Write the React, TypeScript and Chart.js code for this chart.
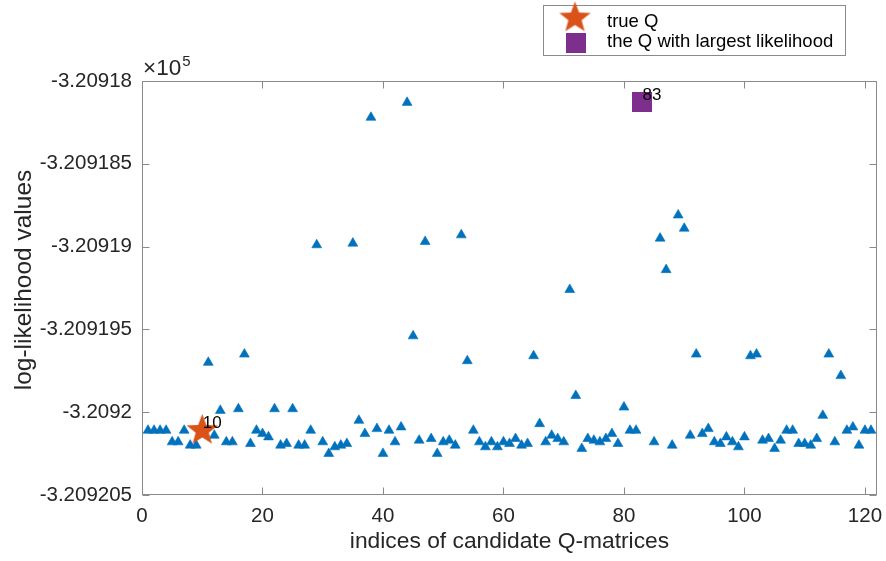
import React, { useEffect, useRef } from 'react';
import { Chart, registerables } from 'chart.js';

Chart.register(...registerables);

// ---------- data ----------
const candidateIndices = [
  1, 2, 3, 4, 5, 6, 7, 8, 9, 10, 11, 12, 13, 14, 15, 16, 17, 18, 19, 20,
  21, 22, 23, 24, 25, 26, 27, 28, 29, 30, 31, 32, 33, 34, 35, 36, 37, 38, 39, 40,
  41, 42, 43, 44, 45, 46, 47, 48, 49, 50, 51, 52, 53, 54, 55, 56, 57, 58, 59, 60,
  61, 62, 63, 64, 65, 66, 67, 68, 69, 70, 71, 72, 73, 74, 75, 76, 77, 78, 79, 80,
  81, 82, 83, 84, 85, 86, 87, 88, 89, 90, 91, 92, 93, 94, 95, 96, 97, 98, 99, 100,
  101, 102, 103, 104, 105, 106, 107, 108, 109, 110, 111, 112, 113, 114, 115, 116, 117, 118, 119, 120,
  121,
];

// index 84 is not visible in the picture (hidden behind the best-Q marker)
const logLikelihoods: (number | null)[] = [
  -320920.11, -320920.11, -320920.11, -320920.11, -320920.18, -320920.18, -320920.11, -320920.2, -320920.2, -320920.11,
  -320919.7, -320920.14, -320919.99, -320920.18, -320920.18, -320919.98, -320919.65, -320920.19, -320920.11, -320920.13,
  -320920.15, -320919.98, -320920.2, -320920.19, -320919.98, -320920.2, -320920.2, -320920.11, -320918.99, -320920.18,
  -320920.25, -320920.21, -320920.2, -320920.19, -320918.98, -320920.05, -320920.13, -320918.22, -320920.1, -320920.25,
  -320920.11, -320920.18, -320920.09, -320918.13, -320919.54, -320920.17, -320918.97, -320920.16, -320920.25, -320920.18,
  -320920.17, -320920.2, -320918.93, -320919.69, -320920.11, -320920.18, -320920.21, -320920.18, -320920.21, -320920.18,
  -320920.19, -320920.16, -320920.2, -320920.19, -320919.66, -320920.07, -320920.18, -320920.14, -320920.16, -320920.18,
  -320919.26, -320919.9, -320920.22, -320920.16, -320920.17, -320920.18, -320920.16, -320920.13, -320920.19, -320919.97,
  -320920.11, -320920.11, -320918.125, null, -320920.18, -320918.95, -320919.14, -320920.2, -320918.81, -320918.89,
  -320920.14, -320919.65, -320920.13, -320920.1, -320920.18, -320920.19, -320920.15, -320920.18, -320920.21, -320920.15,
  -320919.66, -320919.65, -320920.17, -320920.16, -320920.22, -320920.17, -320920.11, -320920.11, -320920.19, -320920.19,
  -320920.2, -320920.16, -320920.02, -320919.65, -320920.18, -320919.78, -320920.11, -320920.09, -320920.2, -320920.11,
  -320920.11,
];

const trueQIndex = 10;
const bestQIndex = 83;

const xLimits = [0, 122];
const yLimits = [-320920.5, -320918];
const xTickValues = [0, 20, 40, 60, 80, 100, 120];
const yTickValues = [-320920.5, -320920, -320919.5, -320919, -320918.5, -320918];

const legendLabels = ['true Q', 'the Q with largest likelihood'];
const xTitle = 'indices of candidate Q-matrices';
const yTitle = 'log-likelihood values';
const exponentBase = '\u00d710';
const exponentPower = '5';

// ---------- styles ----------
const FONT = "'Liberation Sans', Arial, Helvetica, sans-serif";
const BLUE = '#0072BD';
const ORANGE = '#D95319';
const PURPLE = '#7E2F8E';
const AXIS = '#8a8a8a';
const TEXT = '#262626';

function makeStar(color: string, outerR: number, ratio: number) {
  const pad = 2;
  const size = Math.ceil(outerR * 2 + pad * 2);
  const c = document.createElement('canvas');
  c.width = size;
  c.height = size;
  const ctx = c.getContext('2d')!;
  const cx = size / 2;
  const cy = size / 2;
  const innerR = outerR * ratio;
  ctx.beginPath();
  for (let k = 0; k < 10; k++) {
    const r = k % 2 === 0 ? outerR : innerR;
    const a = -Math.PI / 2 + (k * Math.PI) / 5;
    const px = cx + r * Math.cos(a);
    const py = cy + r * Math.sin(a);
    if (k === 0) ctx.moveTo(px, py);
    else ctx.lineTo(px, py);
  }
  ctx.closePath();
  ctx.fillStyle = color;
  ctx.fill();
  return c;
}

function makeSquare(color: string, side: number) {
  const c = document.createElement('canvas');
  c.width = side;
  c.height = side;
  const ctx = c.getContext('2d')!;
  ctx.fillStyle = color;
  ctx.fillRect(0, 0, side, side);
  return c;
}

function fmtY(v: number) {
  return String(parseFloat((v / 1e5).toFixed(7)));
}

export default function App() {
  const ref = useRef<HTMLCanvasElement>(null);

  useEffect(() => {
    const canvas = ref.current!;
    const starImg = makeStar(ORANGE, 16.5, 0.42);
    const squareImg = makeSquare(PURPLE, 20);
    const points = candidateIndices.map((x, k) => ({ x, y: logLikelihoods[k] }));
    const trueVal = logLikelihoods[candidateIndices.indexOf(trueQIndex)] as number;
    const bestVal = logLikelihoods[candidateIndices.indexOf(bestQIndex)] as number;

    const overlay = {
      id: 'matlabOverlay',
      beforeDatasetsDraw(chart: any) {
        const { ctx, chartArea: a, scales } = chart;
        ctx.save();
        ctx.strokeStyle = AXIS;
        ctx.lineWidth = 1;
        const L = Math.round(a.left) + 0.5;
        const R = Math.round(a.right) - 0.5;
        const T = Math.round(a.top) + 0.5;
        const B = Math.round(a.bottom) - 0.5;
        ctx.strokeRect(L, T, R - L, B - T);
        const tl = 7;
        ctx.beginPath();
        xTickValues.forEach((v) => {
          const px = Math.round(scales.x.getPixelForValue(v)) + 0.5;
          ctx.moveTo(px, B);
          ctx.lineTo(px, B - tl);
          ctx.moveTo(px, T);
          ctx.lineTo(px, T + tl);
        });
        yTickValues.forEach((v) => {
          const py = Math.round(scales.y.getPixelForValue(v)) + 0.5;
          ctx.moveTo(L, py);
          ctx.lineTo(L + tl, py);
          ctx.moveTo(R, py);
          ctx.lineTo(R - tl, py);
        });
        ctx.stroke();

        // y-axis title
        ctx.save();
        ctx.fillStyle = TEXT;
        ctx.font = `24.5px ${FONT}`;
        ctx.textAlign = 'center';
        ctx.textBaseline = 'middle';
        ctx.translate(24, 280);
        ctx.rotate(-Math.PI / 2);
        ctx.fillText(yTitle, 0, 0);
        ctx.restore();
        ctx.restore();
      },
      afterDraw(chart: any) {
        const { ctx, chartArea: a, scales } = chart;
        ctx.save();
        // data labels
        ctx.fillStyle = '#000';
        ctx.font = `17px ${FONT}`;
        ctx.textAlign = 'left';
        ctx.textBaseline = 'middle';
        ctx.fillText(String(trueQIndex), scales.x.getPixelForValue(trueQIndex) + 0.5, scales.y.getPixelForValue(trueVal) - 7);
        ctx.fillText(String(bestQIndex), scales.x.getPixelForValue(bestQIndex) + 0.5, scales.y.getPixelForValue(bestVal) - 6.5);

        // exponent label
        ctx.fillStyle = TEXT;
        ctx.textBaseline = 'alphabetic';
        ctx.font = `22.5px ${FONT}`;
        const ex = a.left + 1;
        ctx.fillText(exponentBase, ex, 75);
        const w = ctx.measureText(exponentBase).width;
        ctx.font = `15px ${FONT}`;
        ctx.fillText(exponentPower, ex + w + 1, 66);

        // legend
        const lx = 543.5, ly = 5.5, lw = 302, lh = 50;
        ctx.fillStyle = '#fff';
        ctx.fillRect(lx, ly, lw, lh);
        ctx.strokeStyle = AXIS;
        ctx.lineWidth = 1;
        ctx.strokeRect(lx, ly, lw, lh);
        ctx.drawImage(starImg, 575 - starImg.width / 2, 18 - starImg.height / 2);
        ctx.drawImage(squareImg, 566, 32.5);
        ctx.fillStyle = '#000';
        ctx.font = `18.5px ${FONT}`;
        ctx.textBaseline = 'middle';
        ctx.fillText(legendLabels[0], 607, 22);
        ctx.fillText(legendLabels[1], 607, 42);
        ctx.restore();
      },
    };

    const chart = new Chart(canvas, {
      type: 'scatter',
      data: {
        datasets: [
          {
            label: legendLabels[0],
            data: [{ x: trueQIndex, y: trueVal }],
            pointStyle: starImg as any,
            pointRadius: 2,
            backgroundColor: ORANGE,
            borderWidth: 0,
            order: 0,
            clip: false as any,
          },
          {
            label: legendLabels[1],
            data: [{ x: bestQIndex, y: bestVal }],
            pointStyle: squareImg as any,
            pointRadius: 2,
            backgroundColor: PURPLE,
            borderWidth: 0,
            order: 1,
            clip: false as any,
          },
          {
            label: 'candidates',
            data: points,
            pointStyle: 'triangle',
            pointRadius: 5.7,
            backgroundColor: BLUE,
            borderColor: BLUE,
            borderWidth: 0.6,
            order: 2,
            clip: false as any,
          },
        ],
      },
      options: {
        responsive: false,
        animation: false,
        events: [],
        layout: { padding: { left: 0, right: 9, top: 81, bottom: 0 } },
        plugins: {
          legend: { display: false },
          tooltip: { enabled: false },
          title: { display: false },
        },
        scales: {
          x: {
            type: 'linear',
            min: xLimits[0],
            max: xLimits[1],
            afterBuildTicks: (s: any) => {
              s.ticks = xTickValues.map((value) => ({ value }));
            },
            afterFit: (s: any) => {
              s.height = 66;
              s.paddingLeft = 0;
              s.paddingRight = 0;
            },
            grid: { display: false, drawTicks: false },
            border: { display: false },
            ticks: {
              padding: 9,
              color: TEXT,
              font: { family: FONT, size: 20.5 },
              maxRotation: 0,
              autoSkip: false,
              callback: (v: any) => String(v),
            },
            title: {
              display: true,
              text: xTitle,
              color: TEXT,
              font: { family: FONT, size: 22.8 },
              padding: { top: 0, bottom: 6 },
            },
          },
          y: {
            type: 'linear',
            min: yLimits[0],
            max: yLimits[1],
            afterBuildTicks: (s: any) => {
              s.ticks = yTickValues.map((value) => ({ value }));
            },
            afterFit: (s: any) => {
              s.width = 142;
              s.paddingTop = 0;
              s.paddingBottom = 0;
            },
            grid: { display: false, drawTicks: false },
            border: { display: false },
            ticks: {
              padding: 10,
              color: TEXT,
              font: { family: FONT, size: 20.5 },
              autoSkip: false,
              callback: (v: any) => fmtY(Number(v)),
            },
            title: { display: false },
          },
        },
      },
      plugins: [overlay],
    } as any);

    return () => chart.destroy();
  }, []);

  return (
    <div style={{ position: 'absolute', left: 0, top: 0, width: 886, height: 561, background: '#fff' }}>
      <canvas ref={ref} width={886} height={561} style={{ display: 'block', width: 886, height: 561 }} />
    </div>
  );
}
